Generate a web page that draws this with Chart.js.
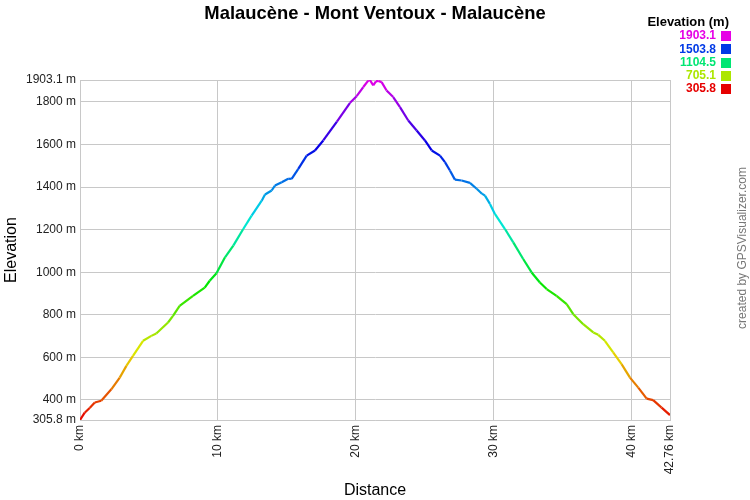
<!DOCTYPE html>
<html>
<head>
<meta charset="utf-8">
<script src="https://cdn.jsdelivr.net/npm/chart.js@4.4.1/dist/chart.umd.min.js"></script>
<style>
  html, body { margin: 0; padding: 0; background: #fff; }
  #wrap { width: 750px; height: 500px; position: relative; }
</style>
</head>
<body>
<div id="wrap"><canvas id="perfil"></canvas></div>
<script>
const distancias = [0, 0.34, 0.70, 1.07, 1.54, 2.27, 2.88, 3.36, 3.84, 4.57, 5.17,
  5.53, 6.38, 6.74, 7.22, 8.19, 9.04, 9.40, 9.89, 10.51, 11.11,
  11.83, 12.44, 13.17, 13.41, 13.89, 14.13, 14.62, 15.09, 15.34, 15.82,
  16.43, 17.03, 17.63, 18.62, 19.57, 20.05, 20.53, 20.89, 21.01, 21.25,
  21.45, 21.62, 21.86, 22.22, 22.70, 23.19, 23.79, 24.40, 25.00, 25.49,
  26.09, 26.45, 26.81, 27.17, 27.66, 28.26, 28.75, 29.13, 29.35, 29.71,
  30.07, 30.80, 31.40, 32.12, 32.73, 33.33, 33.82, 34.54, 35.27, 35.75,
  36.47, 37.20, 37.56, 38.04, 38.64, 39.25, 39.86, 40.46, 41.07, 41.54,
  42.15, 42.76];
const elevaciones = [305.8, 340, 362, 388, 396, 450, 505, 560, 607, 678, 701,
  712, 764, 795, 842, 889, 928, 960, 995, 1070, 1125,
  1203, 1266, 1336, 1365, 1384, 1407, 1423, 1439, 1439, 1486,
  1548, 1572, 1619, 1708, 1796, 1827, 1870, 1900, 1903.1, 1878,
  1897, 1899, 1893, 1854, 1823, 1776, 1713, 1666, 1619, 1572,
  1548, 1517, 1478, 1435, 1431, 1420, 1392, 1369, 1360, 1321,
  1274, 1203, 1140, 1062, 999, 952, 921, 889, 850, 803,
  756, 717, 706, 678, 623, 568, 505, 458, 406, 399,
  364, 329];
const ticksDistancia = [0, 10, 20, 30, 40, 42.76];
const ticksElevacion = [305.8, 400, 600, 800, 1000, 1200, 1400, 1600, 1800, 1903.1];
const leyendaValores = [1903.1, 1503.8, 1104.5, 705.1, 305.8];
const elevMin = 305.8;
const elevMax = 1903.1;
const titulo = 'Malaucène - Mont Ventoux - Malaucène';

const fuente = '"Liberation Sans", Arial, sans-serif';

function colorElev(e) {
  const f = Math.min(1, Math.max(0, (e - elevMin) / (elevMax - elevMin)));
  return 'hsl(' + (300 * f) + ', 100%, 45%)';
}

// título centrado en la página, leyenda de colores y crédito
const extras = {
  id: 'extras',
  afterDraw(chart) {
    const c = chart.ctx;
    c.save();
    c.textBaseline = 'middle';
    c.textAlign = 'center';
    c.fillStyle = '#000';
    c.font = 'bold 18.4px ' + fuente;
    c.fillText(titulo, 375, 14);

    c.textAlign = 'right';
    c.font = 'bold 13px ' + fuente;
    c.fillText('Elevation (m)', 729, 22);
    c.font = 'bold 12px ' + fuente;
    leyendaValores.forEach((v, i) => {
      const y = 36 + i * 13.25;
      c.fillStyle = colorElev(v);
      c.fillText(v.toFixed(1), 716, y);
      c.fillRect(721, Math.round(y) - 5, 10, 10);
    });

    c.translate(743, 248);
    c.rotate(-Math.PI / 2);
    c.textAlign = 'center';
    c.fillStyle = '#777';
    c.font = '12px ' + fuente;
    c.fillText('created by GPSVisualizer.com', 0, 0);
    c.restore();
  }
};

function crearPerfil() {
  const ctx = document.getElementById('perfil').getContext('2d');
  return new Chart(ctx, {
    type: 'line',
    data: {
      datasets: [{
        data: distancias.map((d, i) => ({ x: d, y: elevaciones[i] })),
        borderWidth: 2.2,
        pointRadius: 0,
        tension: 0,
        fill: false,
        segment: {
          borderColor: s => colorElev((s.p0.parsed.y + s.p1.parsed.y) / 2)
        }
      }]
    },
    options: {
      responsive: true,
      maintainAspectRatio: false,
      animation: false,
      layout: { padding: { left: 0, right: 80, top: 80, bottom: 0 } },
      plugins: {
        legend: { display: false },
        tooltip: { enabled: false },
        title: { display: false }
      },
      scales: {
        x: {
          type: 'linear',
          min: 0,
          max: 42.76,
          afterBuildTicks: s => { s.ticks = ticksDistancia.map(v => ({ value: v })); },
          afterFit: s => { s.height = 80; },
          grid: { color: '#c8c8c8', drawTicks: false },
          border: { color: '#c8c8c8' },
          ticks: {
            autoSkip: false,
            maxRotation: 90,
            minRotation: 90,
            padding: 5,
            color: '#222',
            font: { family: fuente, size: 12 },
            callback: v => v + ' km'
          },
          title: {
            display: true,
            text: 'Distance',
            color: '#000',
            font: { family: fuente, size: 16 },
            padding: { top: 0, bottom: 0 }
          }
        },
        y: {
          min: elevMin,
          max: elevMax,
          afterBuildTicks: s => { s.ticks = ticksElevacion.map(v => ({ value: v })); },
          afterFit: s => { s.width = 80; },
          grid: { color: '#c8c8c8', drawTicks: false },
          border: { color: '#c8c8c8' },
          ticks: {
            padding: 4,
            color: '#222',
            font: { family: fuente, size: 12 },
            callback: v => v + ' m'
          },
          title: {
            display: true,
            text: 'Elevation',
            color: '#000',
            font: { family: fuente, size: 16 },
            padding: { top: 2, bottom: 2 }
          }
        }
      }
    },
    plugins: [extras]
  });
}

crearPerfil();
</script>
</body>
</html>
